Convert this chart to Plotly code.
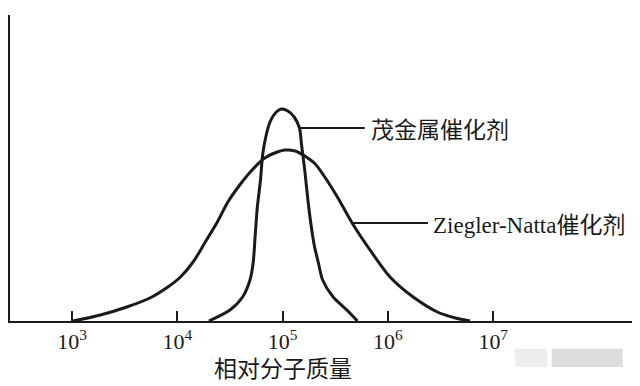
import plotly.graph_objects as go

# log10(relative molecular mass) and relative amount (arbitrary units)
zn_logM = [3.01, 3.27, 3.52, 3.74, 3.91, 4.03, 4.15, 4.26, 4.38, 4.48, 4.60, 4.71, 4.83, 4.95,
           5.02, 5.12, 5.21, 5.31, 5.40, 5.52, 5.66, 5.83, 6.02, 6.24, 6.47, 6.64, 6.78]
zn_amount = [0, 6, 14, 23, 34, 44, 59, 78, 99, 119, 137, 151, 163, 169,
             171, 170, 165, 157, 144, 124, 98, 71, 44, 24, 9, 3, 0]

met_logM = [4.30, 4.50, 4.62, 4.69, 4.72, 4.74, 4.76, 4.79, 4.81, 4.84, 4.88, 4.94, 4.99,
            5.05, 5.11, 5.16, 5.18, 5.21, 5.24, 5.27, 5.30, 5.34, 5.38, 5.48, 5.61, 5.71]
met_amount = [0, 11, 24, 41, 58, 86, 114, 141, 166, 184, 199, 209, 212,
              210, 204, 193, 176, 151, 121, 96, 76, 58, 41, 24, 11, 0]

tick_vals = [3, 4, 5, 6, 7]
tick_text = ["10<sup>3</sup>", "10<sup>4</sup>", "10<sup>5</sup>", "10<sup>6</sup>", "10<sup>7</sup>"]

label_met = "茂金属催化剂"
label_zn = "Ziegler-Natta催化剂"
x_title = "相对分子质量"

ink = "#1a1a1a"
serif_cjk = "Liberation Serif, Noto Sans CJK SC, serif"

fig = go.Figure()
fig.add_trace(go.Scatter(x=zn_logM, y=zn_amount, mode="lines",
                         line=dict(color=ink, width=3, shape="spline", smoothing=0.8),
                         hoverinfo="skip"))
fig.add_trace(go.Scatter(x=met_logM, y=met_amount, mode="lines",
                         line=dict(color=ink, width=3, shape="spline", smoothing=0.8),
                         hoverinfo="skip"))

# leader lines
fig.add_shape(type="line", x0=5.17, x1=5.78, y0=193, y1=193, line=dict(color=ink, width=2))
fig.add_shape(type="line", x0=5.66, x1=6.38, y0=98, y1=98, line=dict(color=ink, width=2))

fig.add_annotation(x=5.82, y=191, text=label_met, showarrow=False, xanchor="left",
                   yanchor="middle", font=dict(family=serif_cjk, size=23, color=ink))
fig.add_annotation(x=6.41, y=96, text=label_zn, showarrow=False, xanchor="left",
                   yanchor="middle", font=dict(family=serif_cjk, size=23, color=ink))
fig.add_annotation(x=5.0, y=-0.160, yref="paper", text=x_title, showarrow=False,
                   xanchor="center", yanchor="middle",
                   font=dict(family=serif_cjk, size=23, color=ink))

# faint watermark blocks
fig.add_shape(type="rect", xref="paper", yref="paper", x0=0.812, x1=0.864, y0=-0.150, y1=-0.091,
              fillcolor="#eeeeee", line=dict(width=0), layer="below")
fig.add_shape(type="rect", xref="paper", yref="paper", x0=0.871, x1=0.985, y0=-0.150, y1=-0.091,
              fillcolor="#dddddd", line=dict(width=0), layer="below")

# page body adds an 8px margin, so the figure is sized to fit inside the window
fig.update_layout(
    width=632, height=378,
    margin=dict(l=2, r=8, t=7, b=65),
    paper_bgcolor="white", plot_bgcolor="white",
    showlegend=False,
    xaxis=dict(range=[2.411, 8.318], showgrid=False, zeroline=False,
               showline=True, linecolor=ink, linewidth=2,
               tickmode="array", tickvals=tick_vals, ticktext=tick_text,
               ticks="inside", ticklen=10, tickwidth=2, tickcolor=ink,
               tickfont=dict(family="Liberation Serif, serif", size=22, color=ink)),
    yaxis=dict(range=[0, 306], showgrid=False, zeroline=False,
               showline=True, linecolor=ink, linewidth=2,
               showticklabels=False, ticks=""),
)

fig.write_html("out.html")
